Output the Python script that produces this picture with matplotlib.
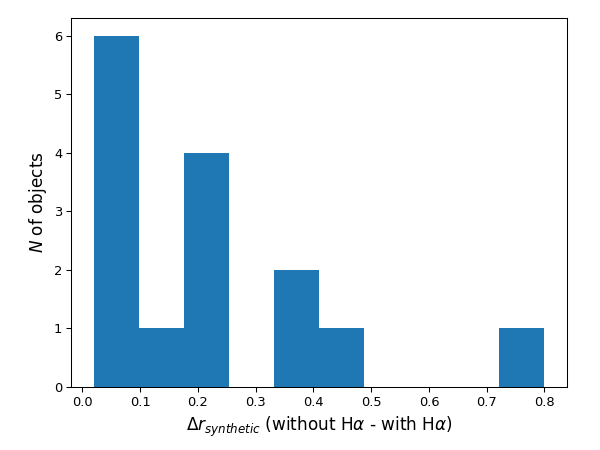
import numpy as np
import matplotlib
matplotlib.use("Agg")
import matplotlib.pyplot as plt

bin_min = 0.02
bin_max = 0.80
n_bins = 10
counts = [6, 1, 4, 0, 2, 1, 0, 0, 0, 1]

edges = np.linspace(bin_min, bin_max, n_bins + 1)

fig, ax = plt.subplots(figsize=(6.4, 4.8), dpi=93.75)
ax.hist(edges[:-1], bins=edges, weights=counts, color="#1f77b4")
ax.set_xlabel(r"$\Delta r_{synthetic}$ (without H$\alpha$ - with H$\alpha$)", fontsize=13)
ax.set_ylabel(r"$N$ of objects", fontsize=13)
fig.subplots_adjust(left=0.119, right=0.945, top=0.96, bottom=0.14)
fig.savefig("out.png", dpi=93.75)
